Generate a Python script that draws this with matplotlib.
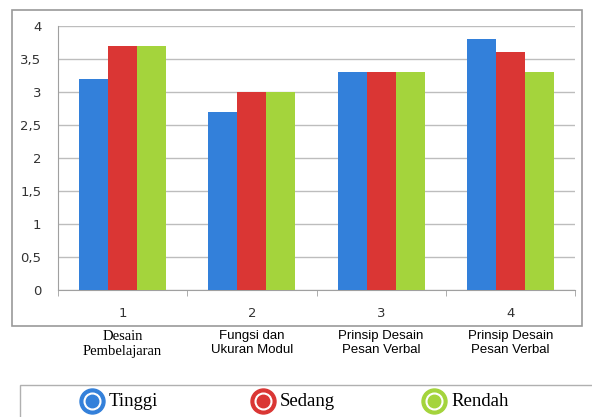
import matplotlib

matplotlib.use("Agg")
import matplotlib.pyplot as plt
import numpy as np
from matplotlib.patches import Rectangle

categories = ["1", "2", "3", "4"]
category_names = [
    "Desain\nPembelajaran",
    "Fungsi dan\nUkuran Modul",
    "Prinsip Desain\nPesan Verbal",
    "Prinsip Desain\nPesan Verbal",
]
series_names = ["Tinggi", "Sedang", "Rendah"]
tinggi = [3.2, 2.7, 3.3, 3.8]
sedang = [3.7, 3.0, 3.3, 3.6]
rendah = [3.7, 3.0, 3.3, 3.3]
y_ticks = [0, 0.5, 1, 1.5, 2, 2.5, 3, 3.5, 4]

colors = ["#3380DA", "#DA3634", "#A4D43C"]

W, H = 592, 417
fig = plt.figure(figsize=(W / 100, H / 100), dpi=100)

# outer chart frame
fig.add_artist(Rectangle((12 / W, 1 - 326 / H), 570 / W, 316 / H, transform=fig.transFigure,
                         fill=False, edgecolor="#9a9a9a", linewidth=1.2))

ax = fig.add_axes([58 / W, 1 - 290 / H, 517 / W, 264 / H])
x = np.arange(len(categories))
width = 0.225
for i, (vals, name) in enumerate(zip([tinggi, sedang, rendah], series_names)):
    ax.bar(x + (i - 1) * width, vals, width, color=colors[i], label=name, zorder=3)

ax.set_xlim(-0.5, len(categories) - 0.5)
ax.set_ylim(0, 4)
ax.set_yticks(y_ticks)
ax.set_yticklabels([f"{v:g}".replace(".", ",") for v in y_ticks], fontsize=9.5, color="#333333")
ax.yaxis.grid(True, color="#bdbdbd", linewidth=1.0, zorder=0)
ax.tick_params(axis="y", length=0, pad=12)
for s in ["top", "right"]:
    ax.spines[s].set_visible(False)
ax.spines["left"].set_color("#a0a0a0")
ax.spines["bottom"].set_color("#a0a0a0")

ax.set_xticks(x)
ax.set_xticklabels(categories, fontsize=9.5, color="#333333")
ax.tick_params(axis="x", length=0, pad=12)
ax.set_xticks(np.arange(-0.5, len(categories)), minor=True)
ax.tick_params(axis="x", which="minor", length=4, color="#a0a0a0", direction="out")

for xi, name in zip(x, category_names):
    if xi == 0:
        fam, size = "Liberation Serif", 10.5
    else:
        fam, size = "Liberation Sans Narrow", 9.5
    ax.annotate(name, xy=(xi, 0), xycoords=("data", "axes fraction"), xytext=(0, -29),
                textcoords="offset points", ha="center", va="top", fontsize=size,
                family=[fam, "Liberation Sans", "DejaVu Sans"], linespacing=1.15)

# legend box
fig.add_artist(Rectangle((20 / W, -0.02), 580 / W, 1 - 385 / H + 0.02, transform=fig.transFigure,
                         fill=False, edgecolor="#b0b0b0", linewidth=1.0))
lax = fig.add_axes([0, 0, 1, 1 - 385 / H])
lax.set_xlim(0, W)
lax.set_ylim(417, 385)
lax.axis("off")
marker_x = [92, 263, 434]
for cx, c, name in zip(marker_x, colors, series_names):
    lax.plot(cx, 401, "o", ms=18, color=c, mec=c)
    lax.plot(cx, 401, "o", ms=12, color="white", mec="white")
    lax.plot(cx, 401, "o", ms=9, color=c, mec=c)
    lax.text(cx + 17, 401, name, fontsize=13.5, family="Liberation Serif", va="center", ha="left")

fig.savefig("out.png", dpi=100)
